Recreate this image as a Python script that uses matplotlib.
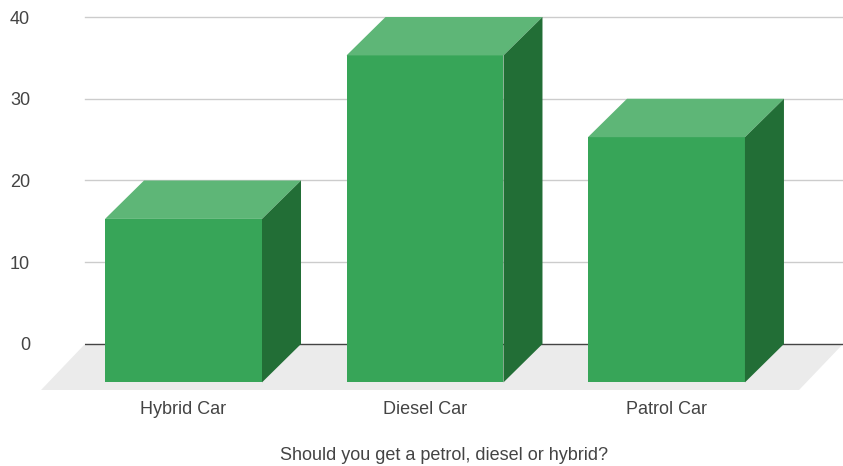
import matplotlib
matplotlib.use('Agg')
import matplotlib.pyplot as plt
from matplotlib.patches import Polygon

plt.rcParams['font.family'] = ['Liberation Sans', 'DejaVu Sans']

categories = ['Hybrid Car', 'Diesel Car', 'Patrol Car']
values = [20, 40, 30]
y_ticks = [0, 10, 20, 30, 40]
x_title = 'Should you get a petrol, diesel or hybrid?'

# look of the fake 3D boxes
bar_width = 0.65
depth_x = 0.1615
depth_y = 4.7
floor_low = -5.63
floor_slant = 0.182

W, H = 843, 466
fig = plt.figure(figsize=(W / 100, H / 100), dpi=100)
# plot area runs from the left end of the gridlines to the right edge
ax = fig.add_axes([85 / W, 1 - 390 / H, (843 - 85) / W, (390 - 17) / H])
ax.set_xlim(-0.408, 2.731)
ax.set_ylim(floor_low, 40)

for s in ax.spines.values():
    s.set_visible(False)

for t in y_ticks[1:]:
    ax.axhline(t, color='#cccccc', linewidth=1.0, zorder=1, clip_on=False)

# floor under the bars
left, right = ax.get_xlim()
ax.add_patch(Polygon([(left, 0), (right, 0), (right - floor_slant, floor_low),
                      (left - floor_slant, floor_low)],
                     facecolor='#ebebeb', edgecolor='none', clip_on=False, zorder=0))
ax.axhline(0, color='#444444', linewidth=1.0, zorder=1)

for i, v in enumerate(values):
    x0 = i - bar_width / 2
    x1 = i + bar_width / 2
    low = -depth_y
    top = v - depth_y
    # front, top and side faces
    ax.add_patch(Polygon([(x0, low), (x1, low), (x1, top), (x0, top)],
                         facecolor='#37a558', edgecolor='none', zorder=3))
    ax.add_patch(Polygon([(x0, top), (x1, top), (x1 + depth_x, v), (x0 + depth_x, v)],
                         facecolor='#5eb677', edgecolor='none', zorder=3, clip_on=False))
    ax.add_patch(Polygon([(x1, low), (x1 + depth_x, 0), (x1 + depth_x, v), (x1, top)],
                         facecolor='#226e36', edgecolor='none', zorder=3, clip_on=False))

ax.set_yticks(y_ticks)
ax.set_xticks(range(len(categories)))
ax.set_xticklabels(categories)
ax.tick_params(axis='y', length=0, pad=39.5, labelsize=13, labelcolor='#444444')
ax.tick_params(axis='x', length=0, pad=8, labelsize=13, labelcolor='#444444')

fig.text(444 / W, 1 - 455 / H, x_title, ha='center', va='center',
         fontsize=13, color='#444444')

fig.savefig('out.png', dpi=100)
